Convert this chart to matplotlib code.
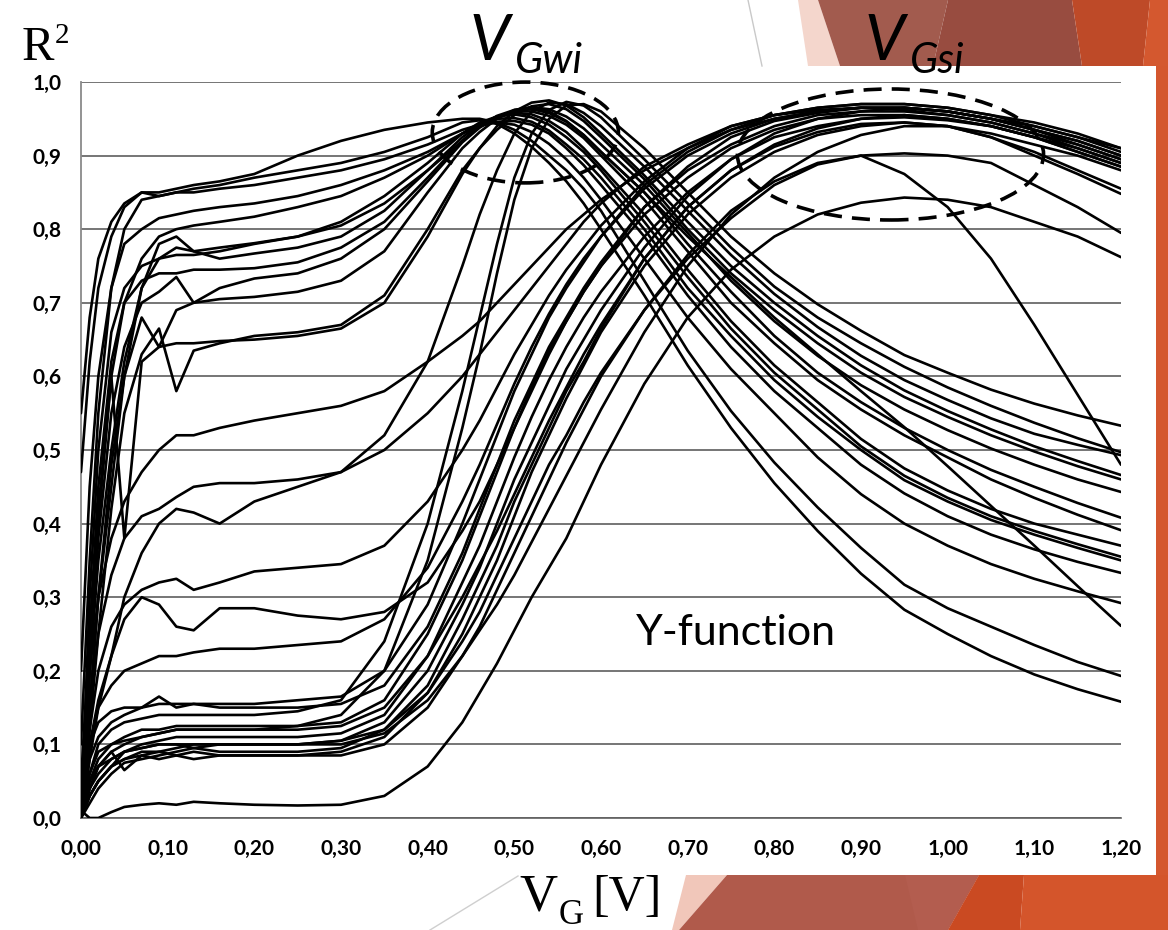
import matplotlib
matplotlib.use("Agg")
import matplotlib.pyplot as plt
from matplotlib.patches import Ellipse, Polygon

# Gate voltage grid shared by all curves [V]
VG = [0.00, 0.01, 0.02, 0.035, 0.05, 0.07, 0.09, 0.11, 0.13, 0.16, 0.20, 0.25, 0.30, 0.35,
      0.40, 0.44, 0.46, 0.48, 0.50, 0.52, 0.54, 0.56, 0.58, 0.60,
      0.65, 0.70, 0.75, 0.80, 0.85, 0.90, 0.95, 1.00, 1.05, 1.10, 1.15, 1.20]

# R^2 curves peaking in weak inversion (around VGwi)
W01 = [0.55, 0.68, 0.76, 0.81, 0.835, 0.85, 0.845, 0.85, 0.855, 0.86, 0.87, 0.88, 0.89, 0.905,
       0.925, 0.945, 0.948, 0.943, 0.93, 0.912, 0.89, 0.865, 0.835, 0.80,
       0.71, 0.615, 0.53, 0.455, 0.39, 0.332, 0.283, 0.25, 0.22, 0.195, 0.175, 0.158]
W02 = [0.47, 0.62, 0.72, 0.79, 0.83, 0.85, 0.85, 0.855, 0.86, 0.865, 0.875, 0.90, 0.92, 0.935,
       0.945, 0.95, 0.95, 0.945, 0.935, 0.92, 0.90, 0.88, 0.855, 0.825,
       0.73, 0.635, 0.553, 0.483, 0.422, 0.367, 0.317, 0.285, 0.26, 0.235, 0.212, 0.193]
W03 = [0.20, 0.45, 0.60, 0.72, 0.80, 0.84, 0.845, 0.85, 0.85, 0.855, 0.86, 0.87, 0.88, 0.895,
       0.915, 0.935, 0.942, 0.945, 0.942, 0.932, 0.916, 0.895, 0.87, 0.84,
       0.76, 0.68, 0.61, 0.55, 0.49, 0.44, 0.40, 0.37, 0.345, 0.325, 0.308, 0.292]
W04 = [0.10, 0.35, 0.55, 0.72, 0.78, 0.80, 0.815, 0.82, 0.825, 0.83, 0.835, 0.845, 0.86, 0.88,
       0.905, 0.93, 0.94, 0.946, 0.947, 0.942, 0.93, 0.91, 0.887, 0.86,
       0.79, 0.71, 0.64, 0.58, 0.53, 0.48, 0.441, 0.41, 0.385, 0.365, 0.348, 0.333]
W05 = [0.05, 0.25, 0.42, 0.60, 0.70, 0.76, 0.79, 0.80, 0.805, 0.81, 0.817, 0.83, 0.845, 0.87,
       0.90, 0.93, 0.942, 0.95, 0.951, 0.946, 0.934, 0.915, 0.895, 0.87,
       0.80, 0.72, 0.655, 0.595, 0.545, 0.50, 0.459, 0.43, 0.405, 0.385, 0.367, 0.35]
W06 = [0.00, 0.20, 0.35, 0.50, 0.62, 0.72, 0.76, 0.775, 0.77, 0.775, 0.781, 0.79, 0.81, 0.845,
       0.89, 0.93, 0.945, 0.953, 0.956, 0.952, 0.942, 0.925, 0.905, 0.88,
       0.81, 0.735, 0.665, 0.605, 0.555, 0.505, 0.465, 0.435, 0.41, 0.39, 0.372, 0.355]
W07 = [0.00, 0.15, 0.30, 0.45, 0.60, 0.72, 0.78, 0.79, 0.77, 0.76, 0.767, 0.775, 0.79, 0.825,
       0.88, 0.925, 0.942, 0.953, 0.958, 0.956, 0.947, 0.932, 0.91, 0.885,
       0.82, 0.745, 0.675, 0.615, 0.565, 0.515, 0.475, 0.445, 0.42, 0.40, 0.385, 0.37]
W08 = [0.00, 0.25, 0.45, 0.62, 0.70, 0.73, 0.74, 0.74, 0.745, 0.745, 0.747, 0.755, 0.775, 0.81,
       0.87, 0.92, 0.94, 0.953, 0.96, 0.96, 0.954, 0.942, 0.924, 0.90,
       0.84, 0.77, 0.70, 0.645, 0.595, 0.555, 0.52, 0.49, 0.46, 0.435, 0.412, 0.391]
W09 = [0.00, 0.20, 0.38, 0.55, 0.64, 0.70, 0.715, 0.735, 0.70, 0.72, 0.733, 0.74, 0.76, 0.80,
       0.865, 0.918, 0.938, 0.952, 0.961, 0.963, 0.958, 0.946, 0.928, 0.905,
       0.85, 0.78, 0.715, 0.655, 0.605, 0.565, 0.53, 0.50, 0.473, 0.45, 0.428, 0.408]
W10 = [0.00, 0.15, 0.30, 0.48, 0.60, 0.68, 0.64, 0.69, 0.70, 0.705, 0.708, 0.715, 0.73, 0.77,
       0.85, 0.91, 0.932, 0.95, 0.962, 0.966, 0.963, 0.953, 0.937, 0.915,
       0.86, 0.795, 0.73, 0.675, 0.628, 0.588, 0.555, 0.527, 0.502, 0.48, 0.46, 0.443]
W11 = [0.00, 0.12, 0.25, 0.42, 0.55, 0.63, 0.665, 0.58, 0.635, 0.645, 0.655, 0.66, 0.67, 0.71,
       0.80, 0.88, 0.91, 0.935, 0.955, 0.967, 0.97, 0.963, 0.947, 0.925,
       0.868, 0.80, 0.74, 0.69, 0.645, 0.605, 0.572, 0.545, 0.52, 0.498, 0.478, 0.46]
W12 = [0.00, 0.20, 0.40, 0.60, 0.38, 0.62, 0.64, 0.645, 0.645, 0.648, 0.65, 0.655, 0.665, 0.70,
       0.79, 0.875, 0.91, 0.94, 0.96, 0.972, 0.975, 0.968, 0.952, 0.93,
       0.873, 0.81, 0.75, 0.70, 0.655, 0.615, 0.581, 0.553, 0.528, 0.505, 0.485, 0.466]
W13 = [0.00, 0.08, 0.15, 0.22, 0.30, 0.36, 0.40, 0.42, 0.415, 0.40, 0.43, 0.45, 0.47, 0.52,
       0.62, 0.75, 0.82, 0.88, 0.93, 0.96, 0.972, 0.97, 0.958, 0.94,
       0.885, 0.825, 0.765, 0.712, 0.667, 0.628, 0.595, 0.568, 0.543, 0.522, 0.507, 0.493]
W14 = [0.00, 0.06, 0.10, 0.12, 0.13, 0.135, 0.14, 0.14, 0.14, 0.14, 0.14, 0.145, 0.16, 0.24,
       0.40, 0.58, 0.68, 0.78, 0.87, 0.93, 0.962, 0.973, 0.968, 0.952,
       0.895, 0.835, 0.775, 0.722, 0.68, 0.645, 0.613, 0.585, 0.56, 0.537, 0.516, 0.497]
W15 = [0.00, 0.04, 0.07, 0.09, 0.10, 0.11, 0.115, 0.12, 0.12, 0.12, 0.12, 0.125, 0.14, 0.20,
       0.35, 0.53, 0.63, 0.74, 0.84, 0.91, 0.95, 0.968, 0.97, 0.96,
       0.91, 0.85, 0.79, 0.74, 0.698, 0.662, 0.629, 0.605, 0.582, 0.563, 0.547, 0.533]
W16 = [0.00, 0.30, 0.50, 0.66, 0.72, 0.75, 0.76, 0.765, 0.765, 0.77, 0.78, 0.79, 0.805, 0.835,
       0.88, 0.92, 0.94, 0.954, 0.962, 0.965, 0.96, 0.947, 0.928, 0.905,
       0.85, 0.79, 0.735, 0.68, 0.63, 0.58, 0.531, 0.478, 0.424, 0.37, 0.315, 0.261]

# R^2 curves peaking in strong inversion (around VGsi)
S01 = [0.01, 0.00, 0.00, 0.008, 0.015, 0.018, 0.02, 0.018, 0.022, 0.02, 0.018, 0.017, 0.018, 0.03,
       0.07, 0.13, 0.17, 0.21, 0.255, 0.30, 0.34, 0.38, 0.43, 0.48,
       0.59, 0.68, 0.745, 0.79, 0.82, 0.836, 0.843, 0.84, 0.83, 0.81, 0.79, 0.762]
S02 = [0.00, 0.03, 0.05, 0.07, 0.08, 0.085, 0.08, 0.085, 0.08, 0.085, 0.085, 0.085, 0.085, 0.10,
       0.15, 0.22, 0.26, 0.31, 0.36, 0.41, 0.46, 0.51, 0.555, 0.60,
       0.69, 0.765, 0.825, 0.865, 0.89, 0.90, 0.875, 0.83, 0.76, 0.67, 0.575, 0.48]
S03 = [0.00, 0.04, 0.06, 0.08, 0.09, 0.095, 0.10, 0.10, 0.10, 0.10, 0.10, 0.10, 0.105, 0.12,
       0.17, 0.24, 0.28, 0.33, 0.38, 0.43, 0.48, 0.52, 0.565, 0.605,
       0.69, 0.76, 0.815, 0.86, 0.888, 0.90, 0.903, 0.90, 0.89, 0.86, 0.83, 0.795]
S04 = [0.00, 0.04, 0.07, 0.09, 0.065, 0.085, 0.09, 0.085, 0.09, 0.085, 0.085, 0.085, 0.09, 0.11,
       0.17, 0.25, 0.30, 0.35, 0.41, 0.47, 0.52, 0.57, 0.615, 0.66,
       0.75, 0.82, 0.87, 0.905, 0.928, 0.94, 0.945, 0.94, 0.93, 0.915, 0.90, 0.88]
S05 = [0.00, 0.05, 0.07, 0.08, 0.09, 0.095, 0.10, 0.10, 0.095, 0.10, 0.10, 0.10, 0.105, 0.13,
       0.20, 0.29, 0.34, 0.40, 0.46, 0.51, 0.56, 0.61, 0.65, 0.69,
       0.775, 0.845, 0.895, 0.93, 0.95, 0.96, 0.965, 0.96, 0.95, 0.935, 0.92, 0.90]
S06 = [0.00, 0.03, 0.05, 0.07, 0.09, 0.10, 0.105, 0.11, 0.11, 0.11, 0.11, 0.11, 0.115, 0.14,
       0.22, 0.32, 0.37, 0.43, 0.49, 0.545, 0.595, 0.64, 0.68, 0.715,
       0.79, 0.85, 0.895, 0.925, 0.94, 0.95, 0.952, 0.948, 0.94, 0.925, 0.91, 0.89]
S07 = [0.00, 0.06, 0.09, 0.10, 0.11, 0.12, 0.12, 0.125, 0.125, 0.125, 0.125, 0.125, 0.13, 0.16,
       0.25, 0.35, 0.41, 0.47, 0.53, 0.585, 0.635, 0.675, 0.715, 0.75,
       0.82, 0.87, 0.91, 0.935, 0.95, 0.955, 0.955, 0.95, 0.94, 0.925, 0.905, 0.885]
S08 = [0.00, 0.08, 0.11, 0.13, 0.14, 0.15, 0.165, 0.15, 0.155, 0.15, 0.15, 0.15, 0.155, 0.18,
       0.26, 0.36, 0.42, 0.48, 0.54, 0.59, 0.64, 0.68, 0.72, 0.755,
       0.83, 0.88, 0.915, 0.94, 0.955, 0.96, 0.96, 0.955, 0.945, 0.93, 0.91, 0.89]
S09 = [0.00, 0.10, 0.13, 0.145, 0.15, 0.15, 0.155, 0.155, 0.155, 0.155, 0.155, 0.16, 0.165, 0.20,
       0.29, 0.40, 0.46, 0.52, 0.58, 0.63, 0.68, 0.72, 0.755, 0.79,
       0.855, 0.90, 0.93, 0.95, 0.96, 0.965, 0.965, 0.96, 0.95, 0.935, 0.915, 0.895]
S10 = [0.00, 0.02, 0.04, 0.06, 0.075, 0.08, 0.085, 0.09, 0.095, 0.09, 0.09, 0.09, 0.095, 0.12,
       0.18, 0.27, 0.32, 0.37, 0.43, 0.48, 0.53, 0.58, 0.62, 0.665,
       0.76, 0.83, 0.88, 0.915, 0.937, 0.95, 0.955, 0.95, 0.94, 0.925, 0.905, 0.885]
S11 = [0.00, 0.10, 0.15, 0.18, 0.20, 0.21, 0.22, 0.22, 0.225, 0.23, 0.23, 0.235, 0.24, 0.27,
       0.34, 0.43, 0.48, 0.535, 0.59, 0.64, 0.685, 0.725, 0.76, 0.79,
       0.86, 0.905, 0.935, 0.955, 0.965, 0.97, 0.97, 0.965, 0.955, 0.94, 0.925, 0.905]
S12 = [0.00, 0.10, 0.16, 0.22, 0.27, 0.30, 0.29, 0.26, 0.255, 0.285, 0.285, 0.275, 0.27, 0.28,
       0.32, 0.39, 0.43, 0.48, 0.53, 0.58, 0.63, 0.675, 0.715, 0.75,
       0.83, 0.885, 0.925, 0.947, 0.958, 0.965, 0.965, 0.96, 0.95, 0.935, 0.92, 0.90]
S13 = [0.00, 0.12, 0.20, 0.26, 0.29, 0.31, 0.32, 0.325, 0.31, 0.32, 0.335, 0.34, 0.345, 0.37,
       0.43, 0.50, 0.54, 0.585, 0.63, 0.67, 0.71, 0.745, 0.775, 0.805,
       0.865, 0.91, 0.94, 0.955, 0.965, 0.97, 0.97, 0.965, 0.955, 0.945, 0.93, 0.91]
S14 = [0.00, 0.15, 0.25, 0.33, 0.38, 0.41, 0.42, 0.436, 0.45, 0.455, 0.455, 0.46, 0.47, 0.50,
       0.55, 0.60, 0.63, 0.66, 0.69, 0.72, 0.75, 0.78, 0.81, 0.835,
       0.885, 0.915, 0.94, 0.955, 0.962, 0.965, 0.962, 0.955, 0.945, 0.93, 0.915, 0.895]
S15 = [0.00, 0.20, 0.30, 0.38, 0.43, 0.47, 0.50, 0.52, 0.52, 0.53, 0.54, 0.55, 0.56, 0.58,
       0.62, 0.655, 0.675, 0.70, 0.725, 0.75, 0.775, 0.80, 0.82, 0.84,
       0.88, 0.91, 0.935, 0.95, 0.96, 0.965, 0.965, 0.96, 0.95, 0.94, 0.925, 0.91]
S16 = [0.00, 0.05, 0.08, 0.10, 0.105, 0.11, 0.115, 0.12, 0.12, 0.12, 0.12, 0.12, 0.125, 0.15,
       0.22, 0.30, 0.345, 0.39, 0.44, 0.49, 0.54, 0.585, 0.63, 0.67,
       0.76, 0.83, 0.88, 0.912, 0.932, 0.943, 0.945, 0.94, 0.925, 0.905, 0.88, 0.855]
S17 = [0.00, 0.03, 0.05, 0.07, 0.08, 0.09, 0.09, 0.095, 0.10, 0.10, 0.10, 0.10, 0.10, 0.115,
       0.16, 0.22, 0.255, 0.29, 0.33, 0.375, 0.42, 0.465, 0.51, 0.555,
       0.66, 0.75, 0.82, 0.87, 0.905, 0.928, 0.94, 0.94, 0.925, 0.90, 0.875, 0.848]

weak_curves = [W01, W02, W03, W04, W05, W06, W07, W08, W09, W10, W11, W12, W13, W14, W15, W16]
strong_curves = [S01, S02, S03, S04, S05, S06, S07, S08, S09, S10, S11, S12, S13, S14, S15, S16, S17]

x_ticks = [0.0, 0.1, 0.2, 0.3, 0.4, 0.5, 0.6, 0.7, 0.8, 0.9, 1.0, 1.1, 1.2]
x_tick_labels = ["0,00", "0,10", "0,20", "0,30", "0,40", "0,50", "0,60",
                 "0,70", "0,80", "0,90", "1,00", "1,10", "1,20"]
y_ticks = [0.0, 0.1, 0.2, 0.3, 0.4, 0.5, 0.6, 0.7, 0.8, 0.9, 1.0]
y_tick_labels = ["0,0", "0,1", "0,2", "0,3", "0,4", "0,5", "0,6", "0,7", "0,8", "0,9", "1,0"]

W, H = 1168, 930
fig = plt.figure(figsize=(W / 100, H / 100), dpi=100, facecolor="white")

# ---- slide background decoration (pixel coordinates) ----
bg = fig.add_axes([0, 0, 1, 1], zorder=0)
bg.set_xlim(0, W)
bg.set_ylim(H, 0)
bg.axis("off")

shapes = [
    # top band
    ([(798, 0), (818, 0), (840, 66), (808, 66)], "#F4D6CC"),
    ([(818, 0), (948, 0), (933, 66), (840, 66)], "#A25B4E"),
    ([(948, 0), (1072, 0), (1082, 66), (933, 66)], "#984C40"),
    ([(1072, 0), (1150, 0), (1143, 66), (1082, 66)], "#BE4A28"),
    ([(1150, 0), (1168, 0), (1168, 66), (1143, 66)], "#D4582F"),
    # right strip
    ([(1156, 66), (1168, 66), (1168, 875), (1156, 875)], "#D4572E"),
    # bottom band
    ([(686, 875), (727, 875), (679, 930), (672, 930)], "#F1C7BA"),
    ([(727, 875), (979, 875), (948, 930), (679, 930)], "#B05A4B"),
    ([(905, 875), (979, 875), (948, 930), (918, 930)], "#B35D4F"),
    ([(979, 875), (1024, 875), (1020, 930), (948, 930)], "#CA4A22"),
    ([(1024, 875), (1168, 875), (1168, 930), (1020, 930)], "#D4552B"),
]
for pts, col in shapes:
    bg.add_patch(Polygon(pts, closed=True, facecolor=col, edgecolor="none"))

bg.plot([748, 762], [0, 66], color="#C9C9C9", lw=1.0)
bg.plot([430, 518], [930, 876], color="#CFCFCF", lw=1.0)

# axis titles
serif = "Liberation Serif"
bg.text(22, 60, "R", fontsize=35, family=serif, va="baseline", ha="left")
bg.text(55, 43, "2", fontsize=21, family=serif, va="baseline", ha="left")
bg.text(519, 910, "V", fontsize=38, family=serif, va="baseline", ha="left")
bg.text(559, 924, "G", fontsize=25, family=serif, va="baseline", ha="left")
bg.text(592, 910, "[V]", fontsize=36, family=serif, va="baseline", ha="left")

# threshold annotations
bg.text(470, 60, "V", fontsize=46, family="Lato", style="italic", va="baseline", ha="left")
bg.text(515, 73, "Gwi", fontsize=30, family="Lato", style="italic", va="baseline", ha="left")
bg.text(865, 60, "V", fontsize=46, family="Lato", style="italic", va="baseline", ha="left")
bg.text(910, 73, "Gsi", fontsize=30, family="Lato", style="italic", va="baseline", ha="left")
bg.text(636, 645, "Y-function", fontsize=31, family="Lato", va="baseline", ha="left")

# ---- main chart ----
ax = fig.add_axes([81 / W, (H - 818) / H, 1040 / W, 736 / H], zorder=1)
ax.set_facecolor("none")
ax.set_xlim(0, 1.2)
ax.set_ylim(0, 1.0)

ax.set_xticks(x_ticks)
ax.set_xticklabels(x_tick_labels)
ax.set_yticks(y_ticks)
ax.set_yticklabels(y_tick_labels)
for lab in ax.get_xticklabels() + ax.get_yticklabels():
    lab.set_fontfamily("Lato")
    lab.set_fontweight("bold")
    lab.set_fontsize(15)
ax.tick_params(axis="x", length=0, pad=15)
ax.tick_params(axis="y", length=0, pad=14)

ax.yaxis.grid(True, color="#505050", lw=1.1)
ax.set_axisbelow(True)
for side in ("top", "right"):
    ax.spines[side].set_visible(False)
ax.spines["left"].set_color("#8A8A8A")
ax.spines["left"].set_linewidth(1.3)
ax.spines["bottom"].set_color("#606060")
ax.spines["bottom"].set_linewidth(1.2)

for curve in weak_curves + strong_curves:
    ax.plot(VG, curve, color="black", lw=1.9, solid_joinstyle="round",
            solid_capstyle="round", zorder=3)

for (cx, cy, ew, eh) in [(0.5127, 0.9314, 0.2148, 0.137), (0.934, 0.9015, 0.3533, 0.178)]:
    ax.add_patch(Ellipse((cx, cy), ew, eh, fill=False, edgecolor="black", lw=2.6,
                         linestyle=(0, (5, 2.8)), clip_on=False, zorder=5))

fig.savefig("out.png", dpi=100, facecolor="white")
